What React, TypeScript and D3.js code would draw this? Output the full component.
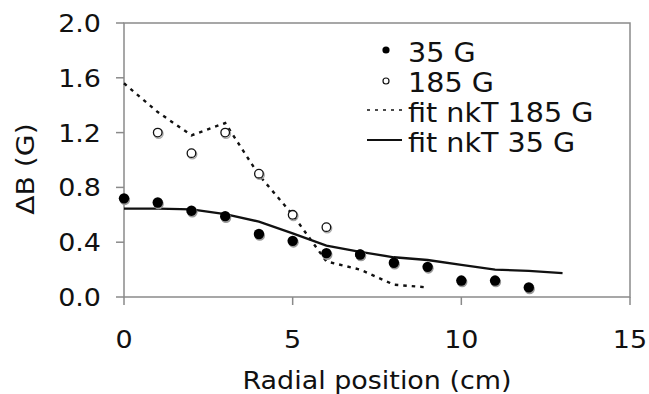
import React from "react";
import * as d3 from "d3";

const x35 = [0, 1, 2, 3, 4, 5, 6, 7, 8, 9, 10, 11, 12];
const y35 = [0.72, 0.69, 0.63, 0.59, 0.46, 0.41, 0.32, 0.31, 0.25, 0.22, 0.12, 0.12, 0.07];
const x185 = [1, 2, 3, 4, 5, 6, 7];
const y185 = [1.2, 1.05, 1.2, 0.9, 0.6, 0.51, 0.31];
const fit185X = [0, 1, 2, 3, 4, 5, 6, 7, 8, 9];
const fit185Y = [1.56, 1.35, 1.18, 1.27, 0.89, 0.6, 0.26, 0.2, 0.09, 0.07];
const fit35X = [0, 1, 2, 3, 4, 5, 6, 7, 8, 9, 10, 11, 12, 13];
const fit35Y = [0.645, 0.645, 0.64, 0.605, 0.55, 0.465, 0.375, 0.33, 0.29, 0.27, 0.235, 0.2, 0.19, 0.175];
const xTicks = [0, 5, 10, 15];
const yTicks = [0, 0.4, 0.8, 1.2, 1.6, 2.0];
const legendLabels = ["35 G", "185 G", "fit nkT 185 G", "fit nkT 35 G"];

const W = 649, H = 394;
const FONT = "'DejaVu Sans', Verdana, sans-serif";
const SX = 1.1;

export default function App() {
  const x = d3.scaleLinear().domain([0, 15]).range([124, 630]);
  const y = d3.scaleLinear().domain([0, 2]).range([297, 23]);
  const line = d3.line<[number, number]>().x(d => x(d[0])).y(d => y(d[1]));
  const fit185 = line(fit185X.map((v, i) => [v, fit185Y[i]]))!;
  const fit35 = line(fit35X.map((v, i) => [v, fit35Y[i]]))!;
  const axisColor = "#8a8a8a";

  return (
    <svg width={W} height={H} style={{ position: "absolute", left: 0, top: 0, background: "#fff" }}>
      {/* frame */}
      <rect x={x(0)} y={y(2)} width={x(15) - x(0)} height={y(0) - y(2)} fill="none" stroke={axisColor} strokeWidth={1.5} />
      {yTicks.map(t => (
        <g key={"y" + t}>
          <line x1={x(0) - 8} x2={x(0)} y1={y(t)} y2={y(t)} stroke={axisColor} strokeWidth={1.5} />
          <text transform={`translate(${x(0) - 23},${y(t) + 9}) scale(${SX},1)`} textAnchor="end" fontFamily={FONT} fontSize={24.5} fill="#111">
            {t.toFixed(1)}
          </text>
        </g>
      ))}
      {xTicks.map(t => (
        <g key={"x" + t}>
          <line x1={x(t)} x2={x(t)} y1={y(0)} y2={y(0) + 8} stroke={axisColor} strokeWidth={1.5} />
          <text transform={`translate(${x(t)},${348}) scale(${SX},1)`} textAnchor="middle" fontFamily={FONT} fontSize={24.5} fill="#111">
            {t}
          </text>
        </g>
      ))}
      <text transform={`translate(${377},${389}) scale(${SX},1)`} textAnchor="middle" fontFamily={FONT} fontSize={24.5} fill="#111">
        Radial position (cm)
      </text>
      <text transform={`translate(${34},${169}) rotate(-90) scale(1.15,1)`} textAnchor="middle" fontFamily={FONT} fontSize={24.5} fill="#111">
        ΔB (G)
      </text>

      {/* fits */}
      <path d={fit185} fill="none" stroke="#111" strokeWidth={2.4} strokeDasharray="3.5,5" />
      <path d={fit35} fill="none" stroke="#111" strokeWidth={2.3} />

      {/* 185 G open markers */}
      {x185.map((v, i) => (
        <g key={"o" + i}>
          <circle cx={x(v) + 0.8} cy={y(y185[i]) + 1.2} r={4.5} fill="none" stroke="#aaa" strokeWidth={1.4} />
          <circle cx={x(v)} cy={y(y185[i])} r={4.3} fill="#fff" stroke="#111" strokeWidth={1.3} />
        </g>
      ))}
      {/* 35 G filled markers */}
      {x35.map((v, i) => (
        <g key={"f" + i}>
          <circle cx={x(v) + 0.8} cy={y(y35[i]) + 1.5} r={5.3} fill="#999" />
          <circle cx={x(v)} cy={y(y35[i])} r={5.2} fill="#000" />
        </g>
      ))}

      {/* legend */}
      <circle cx={386} cy={50} r={3.6} fill="#000" />
      <circle cx={386} cy={81} r={3} fill="#fff" stroke="#111" strokeWidth={1.2} />
      <line x1={367} x2={402} y1={110} y2={110} stroke="#111" strokeWidth={1.6} strokeDasharray="3,5" />
      <line x1={367} x2={402} y1={140} y2={140} stroke="#111" strokeWidth={1.8} />
      {legendLabels.map((l, i) => (
        <text key={l} transform={`translate(${408},${61.5 + i * 30}) scale(${SX},1)`} fontFamily={FONT} fontSize={26} fill="#111">
          {l}
        </text>
      ))}
    </svg>
  );
}
